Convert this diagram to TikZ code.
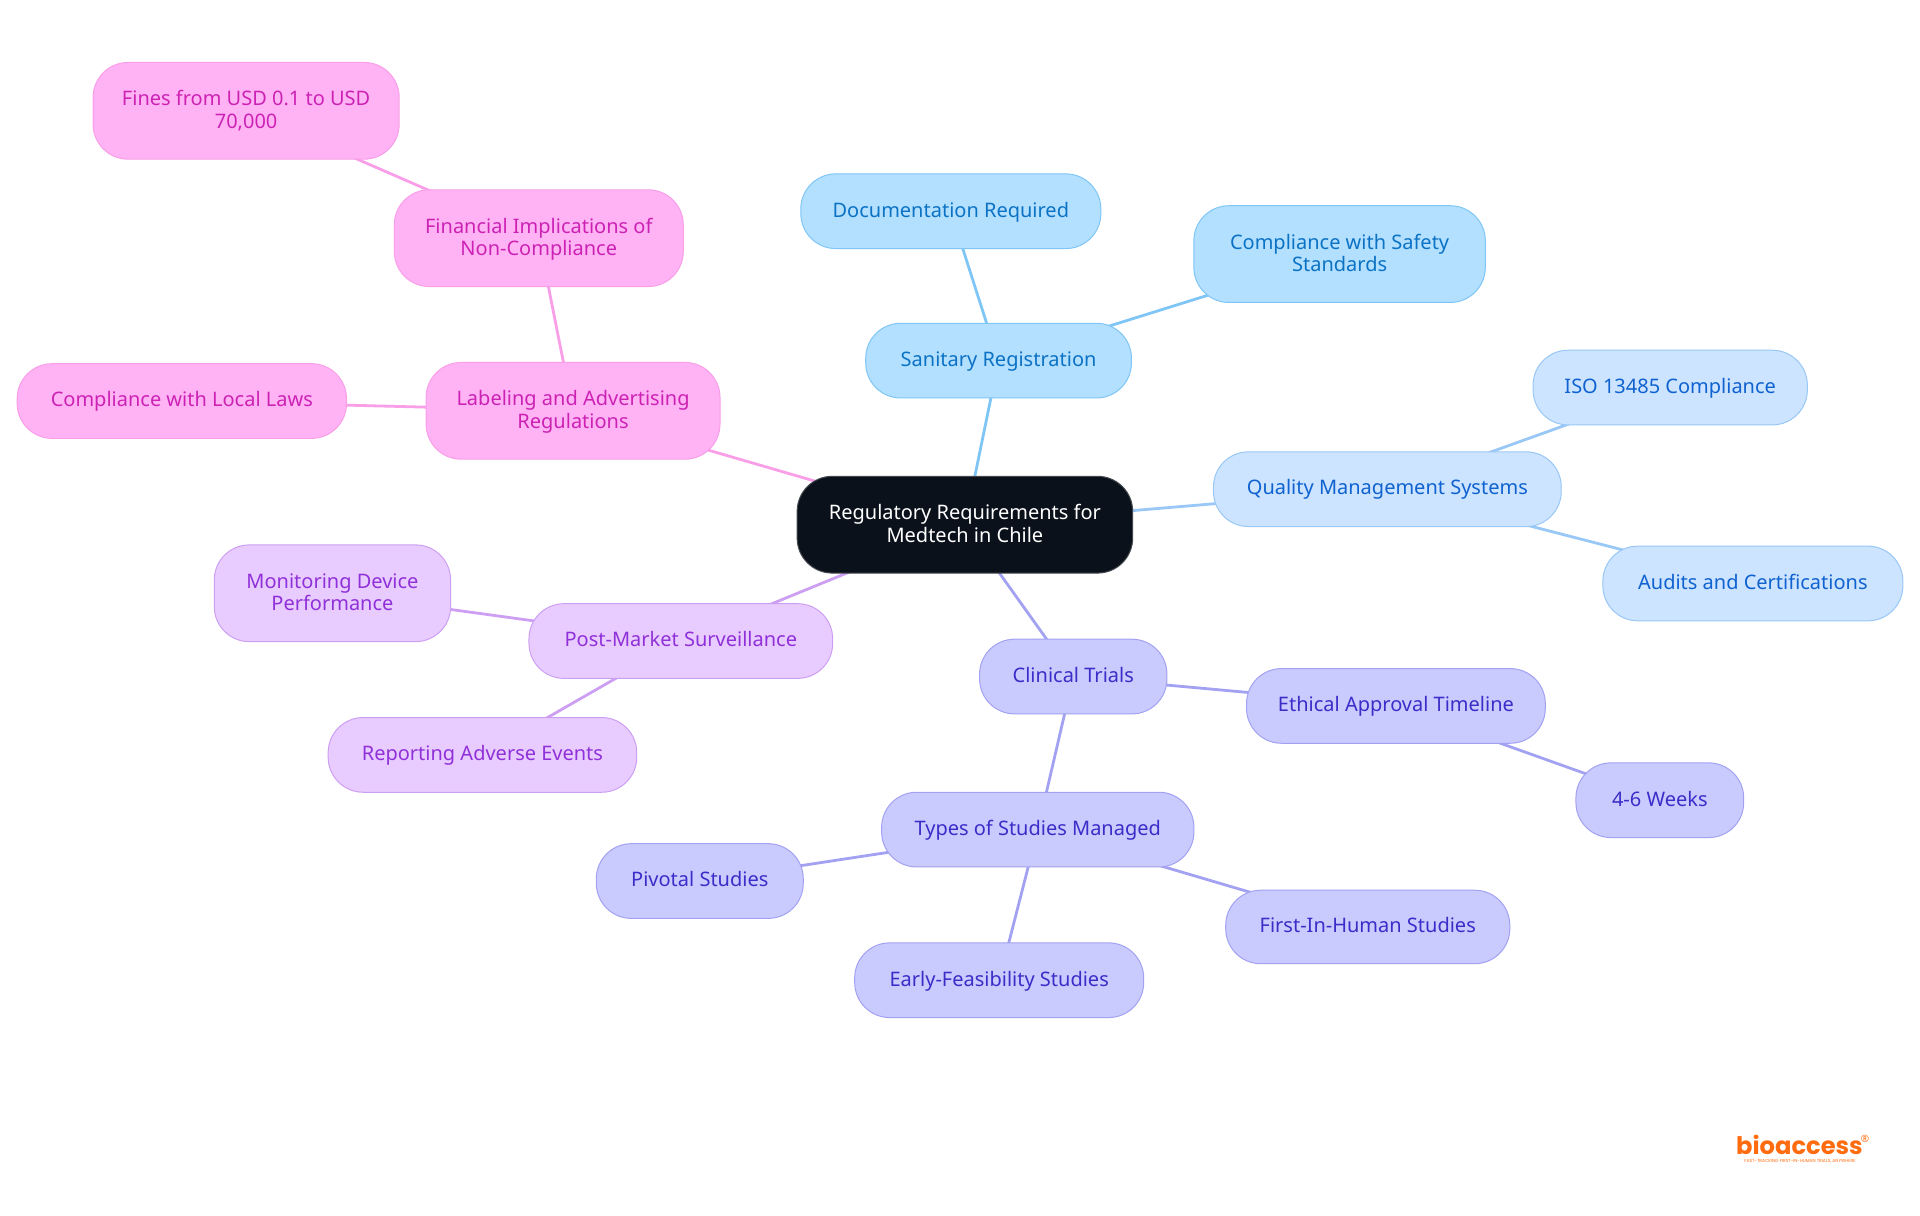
\documentclass[tikz,border=0pt]{standalone}
\usepackage{fontspec}
\setmainfont{Noto Sans}
\newfontfamily\logofont{Poppins}[BoldFont={Poppins Bold}]
\usetikzlibrary{backgrounds}
\definecolor{cA}{HTML}{B3E0FF}\definecolor{sA}{HTML}{7FC6F6}\definecolor{tA}{HTML}{0B72C4}
\definecolor{cB}{HTML}{CCE4FF}\definecolor{sB}{HTML}{99C7F6}\definecolor{tB}{HTML}{0F62D0}
\definecolor{cC}{HTML}{C9CBFF}\definecolor{sC}{HTML}{A3A1F2}\definecolor{tC}{HTML}{3A2DC8}
\definecolor{cD}{HTML}{E8CCFF}\definecolor{sD}{HTML}{CD9FF3}\definecolor{tD}{HTML}{9030D8}
\definecolor{cE}{HTML}{FFB3F5}\definecolor{sE}{HTML}{F89FE8}\definecolor{tE}{HTML}{CC22B4}
\definecolor{cR}{HTML}{0B111A}\definecolor{sR}{HTML}{454950}
\definecolor{logoc}{HTML}{FF6B0F}
\newcommand\topfix{\rule{0pt}{9.4pt}}
\tikzset{
 box/.style={rectangle,rounded corners=17.5pt,line width=.5pt,inner sep=0pt,align=center,font=\fontsize{10}{11.3}\selectfont,
  execute at begin node={\rule{0pt}{8.8pt}},execute at end node={\rule[-3pt]{0pt}{3pt}}},
 bA/.style={box,fill=cA,draw=sA,text=tA},
 bB/.style={box,fill=cB,draw=sB,text=tB},
 bC/.style={box,fill=cC,draw=sC,text=tC},
 bD/.style={box,fill=cD,draw=sD,text=tD},
 bE/.style={box,fill=cE,draw=sE,text=tE},
 bR/.style={box,fill=cR,draw=sR,text=white},
 eA/.style={draw=sA,line width=1.4pt},
 eB/.style={draw=sB,line width=1.4pt},
 eC/.style={draw=sC,line width=1.4pt},
 eD/.style={draw=sD,line width=1.4pt},
 eE/.style={draw=sE,line width=1.4pt},
}
\newcommand\mn[7]{\pgfmathsetmacro\mw{(#4-#2)*0.61224}\pgfmathsetmacro\mh{(#5-#3)*0.61224}\node[#6,minimum width=\mw pt,minimum height=\mh pt] (#1) at ({(#2+#4)/2},{(#3+#5)/2}) {#7};}
\begin{document}
\begin{tikzpicture}[x=0.61224pt,y=-0.61224pt]
\useasboundingbox (0,0) rectangle (1568,992.25);
\mn{root}{651}{389}{925}{468}{bR}{\topfix Regulatory Requirements for\\Medtech in Chile}
\mn{san}{707}{264}{924}{325}{bA}{Sanitary Registration}
\mn{doc}{654}{142}{899}{203}{bA}{Documentation Required}
\mn{saf}{975}{168}{1213}{247}{bA}{\topfix Compliance with Safety\\Standards}
\mn{qms}{991}{369}{1275}{430}{bB}{Quality Management Systems}
\mn{iso}{1252}{286}{1476}{347}{bB}{ISO 13485 Compliance}
\mn{aud}{1309}{446}{1554}{507}{bB}{Audits and Certifications}
\mn{cli}{800}{522}{953}{583}{bC}{Clinical Trials}
\mn{eth}{1018}{546}{1262}{607}{bC}{Ethical Approval Timeline}
\mn{wks}{1287}{623}{1424}{684}{bC}{4-6 Weeks}
\mn{typ}{720}{647}{975}{708}{bC}{Types of Studies Managed}
\mn{piv}{487}{689}{656}{750}{bC}{Pivotal Studies}
\mn{fih}{1001}{727}{1233}{787}{bC}{First-In-Human Studies}
\mn{ear}{698}{770}{934}{831}{bC}{Early-Feasibility Studies}
\mn{pms}{432}{493}{680}{554}{bD}{Post-Market Surveillance}
\mn{mon}{175}{445}{368}{524}{bD}{\topfix Monitoring Device\\Performance}
\mn{rep}{268}{586}{520}{647}{bD}{Reporting Adverse Events}
\mn{lab}{348}{296}{588}{375}{bE}{\topfix Labeling and Advertising\\Regulations}
\mn{loc}{14}{297}{283}{358}{bE}{Compliance with Local Laws}
\mn{fin}{322}{155}{558}{234}{bE}{\topfix Financial Implications of\\Non-Compliance}
\mn{fines}{76}{51}{326}{130}{bE}{\topfix Fines from USD 0.1 to USD\\70,000}
\begin{scope}[on background layer]
\draw[eA] (root.center) -- (san.center);
\draw[eA] (san.center) -- (doc.center);
\draw[eA] (san.center) -- (saf.center);
\draw[eB] (root.center) -- (qms.center);
\draw[eB] (qms.center) -- (iso.center);
\draw[eB] (qms.center) -- (aud.center);
\draw[eC] (root.center) -- (cli.center);
\draw[eC] (cli.center) -- (eth.center);
\draw[eC] (eth.center) -- (wks.center);
\draw[eC] (cli.center) -- (typ.center);
\draw[eC] (typ.center) -- (piv.center);
\draw[eC] (typ.center) -- (fih.center);
\draw[eC] (typ.center) -- (ear.center);
\draw[eD] (root.center) -- (pms.center);
\draw[eD] (pms.center) -- (mon.center);
\draw[eD] (pms.center) -- (rep.center);
\draw[eE] (root.center) -- (lab.center);
\draw[eE] (lab.center) -- (loc.center);
\draw[eE] (lab.center) -- (fin.center);
\draw[eE] (fin.center) -- (fines.center);
\end{scope}
\node[text=logoc,inner sep=0pt,anchor=base,font=\logofont\bfseries\fontsize{12.1}{13}\selectfont] (logo) at (1469.5,943.2) {bioaccess};
\node[text=logoc,inner sep=0pt,font=\fontsize{5}{5}\selectfont] (reg) at (1523,930) {®};
\node[text=logoc,inner sep=0pt,anchor=base,font=\logofont\fontsize{2.2}{2.4}\selectfont] (tag) at (1470,949.5) {FAST-TRACKING FIRST-IN-HUMAN TRIALS, ANYWHERE};
\end{tikzpicture}
\end{document}
